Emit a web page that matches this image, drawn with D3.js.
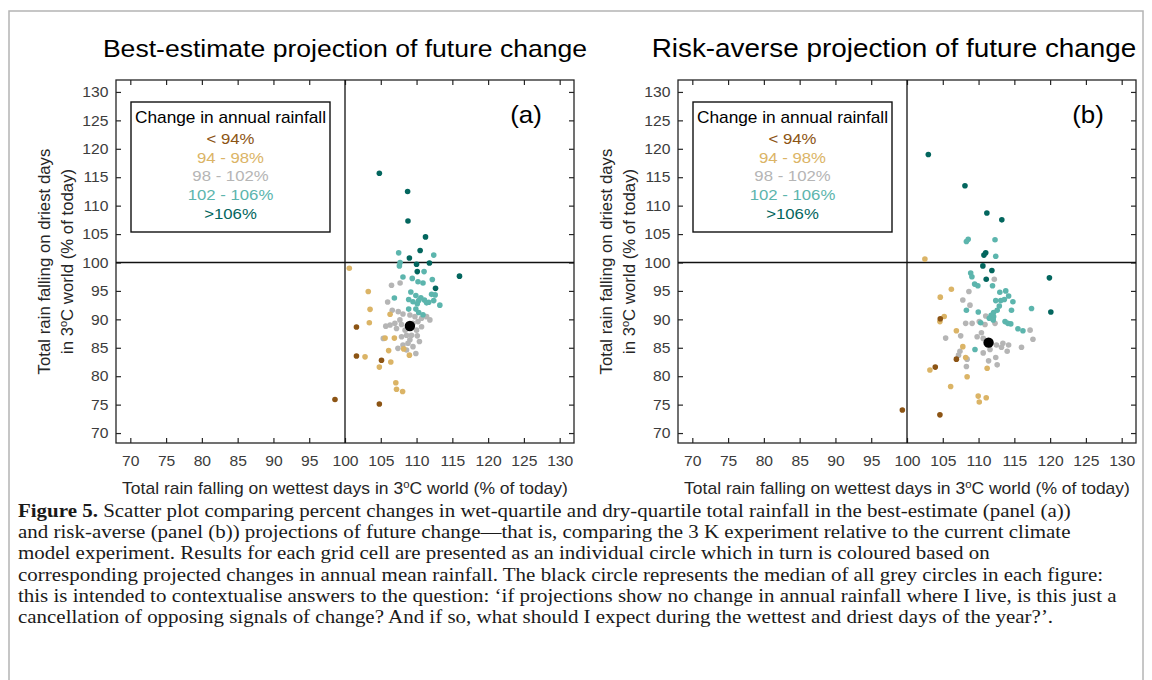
<!DOCTYPE html>
<html>
<head>
<meta charset="utf-8">
<script src="https://cdn.jsdelivr.net/npm/d3@7"></script>
<style>
  body { margin: 0; background: #fff; }
  svg { display: block; }
</style>
</head>
<body>
<svg id="fig" width="1152" height="680"></svg>
<script>
// Figure 5 – wet-quartile vs dry-quartile rainfall change, two panels

// legend categories (change in annual rainfall)
const categories = ['< 94%', '94 - 98%', '98 - 102%', '102 - 106%', '>106%'];
const catColors = ['#8c5414', '#dbb466', '#b5b5b5', '#5cb5ad', '#03665e'];
const drawOrder = [2, 1, 3, 0, 4];

const xTicks = [70, 75, 80, 85, 90, 95, 100, 105, 110, 115, 120, 125, 130];
const yTicks = [70, 75, 80, 85, 90, 95, 100, 105, 110, 115, 120, 125, 130];

// panel (a): best-estimate, [wettest %, driest %]
const aBelow94 = [[101.6, 88.65], [101.6, 83.55], [105.1, 82.8], [98.6, 75.9], [104.8, 75.1]];
const a94to98 = [[100.6, 99.0], [103.25, 94.9], [103.5, 91.76], [106.3, 90.9], [103.4, 89.4],
  [106.9, 86.7], [105.6, 86.7], [106.1, 84.5], [102.8, 83.4], [106.4, 82.5], [104.8, 81.6],
  [109.0, 83.7], [108.2, 84.8], [107.1, 78.85], [107.2, 77.7], [108.05, 77.3]];
const a98to102 = [[106.5, 96.0], [107.7, 96.4], [105.96, 93.05], [106.6, 91.6], [107.44, 91.35],
  [108.1, 90.94], [109.07, 90.76], [109.77, 90.47], [111.4, 90.47], [111.86, 89.9], [107.67, 89.9],
  [106.97, 89.3], [107.9, 89.1], [109.5, 89.3], [110.2, 89.6], [110.7, 90.2], [106.3, 89.0],
  [105.7, 88.8], [107.2, 88.4], [108.4, 88.1], [110.0, 88.1], [110.7, 88.7], [109.3, 87.2],
  [108.6, 87.2], [107.9, 86.95], [109.07, 86.4], [110.1, 87.1], [110.4, 86.1], [108.8, 85.8],
  [108.1, 85.5], [109.5, 85.2], [107.4, 84.9], [108.6, 84.6], [109.9, 84.0], [105.35, 86.65]];
const a102to106 = [[107.5, 101.7], [112.4, 101.3], [107.7, 100.0], [107.6, 99.4], [111.05, 98.4],
  [108.1, 97.45], [109.4, 97.2], [112.2, 97.0], [110.2, 96.6], [110.9, 96.4], [109.2, 94.8],
  [109.9, 94.2], [110.6, 93.8], [111.1, 93.4], [110.3, 93.3], [111.7, 93.0], [112.4, 93.3],
  [112.6, 94.3], [112.1, 94.4], [113.25, 92.5], [109.5, 93.1], [108.9, 93.5], [110.1, 92.75],
  [111.4, 92.9], [106.9, 93.75], [108.9, 91.8], [109.9, 91.8], [110.3, 91.2], [110.9, 90.8]];
const aAbove106 = [[104.8, 115.7], [108.75, 112.5], [108.8, 107.3], [111.25, 104.5], [110.5, 102.1],
  [109.0, 100.8], [110.0, 99.7], [111.8, 99.9], [110.1, 98.4], [116.0, 97.6], [112.65, 95.45]];
const aMedian = [109.07, 88.83];

// panel (b): risk-averse
const bBelow94 = [[104.65, 90.1], [106.9, 83.0], [103.95, 81.6], [99.35, 74.05], [104.6, 73.2]];
const b94to98 = [[102.5, 100.6], [106.2, 95.3], [104.65, 93.9], [105.2, 90.5], [104.6, 89.6],
  [106.9, 88.0], [107.8, 85.2], [108.2, 83.3], [103.2, 81.1], [108.4, 79.9], [111.2, 81.4],
  [106.1, 78.2], [109.95, 76.5], [111.07, 76.2], [110.1, 75.45]];
const b98to102 = [[112.2, 97.05], [108.65, 94.9], [107.8, 93.4], [108.8, 92.5], [111.0, 90.6],
  [108.2, 89.3], [110.1, 89.6], [110.9, 89.1], [112.3, 89.3], [117.2, 88.1], [117.6, 86.5],
  [105.4, 86.7], [107.5, 87.1], [110.4, 87.65], [109.8, 86.95], [110.65, 86.65], [112.5, 85.5],
  [113.4, 85.8], [114.2, 85.5], [114.0, 84.4], [111.6, 84.7], [110.65, 84.1], [108.4, 83.0],
  [111.4, 82.7], [112.6, 82.0], [112.4, 83.3], [108.3, 81.7], [107.4, 84.4], [107.2, 83.7],
  [116.0, 85.1], [113.2, 85.1], [109.1, 89.3]];
const b102to106 = [[108.55, 104.1], [108.3, 103.7], [112.3, 104.0], [112.4, 101.1], [108.9, 98.15],
  [109.07, 97.5], [109.45, 96.2], [109.9, 95.9], [111.95, 95.9], [112.97, 94.76], [113.8, 95.0],
  [112.4, 93.3], [113.1, 93.3], [113.6, 93.5], [114.2, 94.1], [114.8, 93.1], [112.9, 92.35],
  [112.6, 91.6], [112.1, 91.2], [114.6, 91.6], [111.76, 90.7], [112.1, 90.47], [111.5, 90.2],
  [112.05, 89.9], [113.7, 89.6], [114.1, 89.3], [114.5, 89.2], [115.5, 88.35], [116.2, 88.0],
  [109.96, 91.3], [108.3, 91.6], [109.5, 84.7], [110.3, 89.4], [117.4, 91.9]];
const bAbove106 = [[102.98, 119.0], [108.1, 113.5], [111.16, 108.7], [113.25, 107.5], [111.0, 101.7],
  [110.75, 101.3], [110.6, 99.4], [111.86, 98.6], [111.07, 97.05], [119.9, 97.3], [120.1, 91.3]];
const bMedian = [111.4, 85.9];

const captionLines = [
  ['Figure 5.', ' Scatter plot comparing percent changes in wet-quartile and dry-quartile total rainfall in the best-estimate (panel (a))'],
  ['', 'and risk-averse (panel (b)) projections of future change\u2014that is, comparing the 3 K experiment relative to the current climate'],
  ['', 'model experiment. Results for each grid cell are presented as an individual circle which in turn is coloured based on'],
  ['', 'corresponding projected changes in annual mean rainfall. The black circle represents the median of all grey circles in each figure:'],
  ['', 'this is intended to contextualise answers to the question: \u2018if projections show no change in annual rainfall where I live, is this just a'],
  ['', 'cancellation of opposing signals of change? And if so, what should I expect during the wettest and driest days of the year?\u2019.']
];

const SANS = '"Liberation Sans", Arial, Helvetica, sans-serif';
const SERIF = '"Liberation Serif", "Times New Roman", serif';
const SX = 1.08; // source figure is slightly stretched horizontally

const svg = d3.select('#fig');

// light frame around the figure
svg.append('rect')
  .attr('x', 9).attr('y', 11).attr('width', 1134).attr('height', 700)
  .attr('fill', 'none').attr('stroke', '#b4b4b4').attr('stroke-width', 1.5);

function stretchText(g, x, y, str, size, fill, anchor) {
  return g.append('text')
    .attr('transform', `translate(${x},${y}) scale(${SX},1)`)
    .attr('font-family', SANS)
    .attr('font-size', size)
    .attr('fill', fill || '#000')
    .attr('text-anchor', anchor || 'middle')
    .text(str);
}

const plotW = 458, plotTop = 80, plotBottom = 443;

const panels = [
  { left: 116, title: 'Best-estimate projection of future change', tag: '(a)',
    titleX: 345, titleSize: 24.6,
    groups: [aBelow94, a94to98, a98to102, a102to106, aAbove106], median: aMedian },
  { left: 678, title: 'Risk-averse projection of future change', tag: '(b)',
    titleX: 894, titleSize: 25.8,
    groups: [bBelow94, b94to98, b98to102, b102to106, bAbove106], median: bMedian }
];

panels.forEach(p => {
  const x = d3.scaleLinear().domain([68, 132]).range([p.left, p.left + plotW]);
  const y = d3.scaleLinear().domain([68.25, 132.1]).range([plotBottom, plotTop]);
  const g = svg.append('g');
  const cx = p.left + plotW / 2;

  // title
  stretchText(g, p.titleX, 57, p.title, p.titleSize);

  // axes, ticks pointing inward on all four sides
  const axB = g.append('g').attr('transform', `translate(0,${plotBottom})`)
    .call(d3.axisBottom(x).tickValues(xTicks).tickSize(-5).tickPadding(13));
  const axT = g.append('g').attr('transform', `translate(0,${plotTop})`)
    .call(d3.axisTop(x).tickValues(xTicks).tickSize(-5).tickFormat(''));
  const axL = g.append('g').attr('transform', `translate(${p.left},0)`)
    .call(d3.axisLeft(y).tickValues(yTicks).tickSize(-5).tickPadding(7));
  const axR = g.append('g').attr('transform', `translate(${p.left + plotW},0)`)
    .call(d3.axisRight(y).tickValues(yTicks).tickSize(-5).tickFormat(''));
  [axB, axT, axL, axR].forEach(a => {
    a.select('.domain').remove();
    a.selectAll('.tick line').attr('stroke', '#262626').attr('stroke-width', 1.2);
    a.selectAll('.tick text')
      .attr('font-family', SANS).attr('font-size', 14.5).attr('fill', '#3c3c3c')
      .attr('transform', `scale(${SX},1)`);
  });

  g.append('rect')
    .attr('x', p.left).attr('y', plotTop).attr('width', plotW).attr('height', plotBottom - plotTop)
    .attr('fill', 'none').attr('stroke', '#262626').attr('stroke-width', 1.3);

  // 100 % reference lines
  g.append('line')
    .attr('x1', x(100)).attr('x2', x(100)).attr('y1', plotTop).attr('y2', plotBottom)
    .attr('stroke', '#111').attr('stroke-width', 1.3);
  g.append('line')
    .attr('x1', p.left).attr('x2', p.left + plotW).attr('y1', y(100)).attr('y2', y(100))
    .attr('stroke', '#111').attr('stroke-width', 1.3);

  // points
  drawOrder.forEach(ci => {
    g.append('g').selectAll('circle')
      .data(p.groups[ci])
      .join('circle')
      .attr('cx', d => x(d[0]))
      .attr('cy', d => y(d[1]))
      .attr('r', 2.8)
      .attr('fill', catColors[ci]);
  });
  g.append('circle')
    .attr('cx', x(p.median[0])).attr('cy', y(p.median[1]))
    .attr('r', 5.2).attr('fill', '#000');

  // legend box
  const lx = p.left + 15;
  g.append('rect')
    .attr('x', lx).attr('y', 102).attr('width', 199).attr('height', 130)
    .attr('fill', '#fff').attr('stroke', '#111').attr('stroke-width', 1.4);
  stretchText(g, lx + 99.5, 123, 'Change in annual rainfall', 16);
  categories.forEach((c, i) => {
    stretchText(g, lx + 99.5, 144 + i * 18.7, c, 15.5, catColors[i]);
  });

  // panel tag
  stretchText(g, p.left + 410, 123, p.tag, 24);

  // x label
  const xl = stretchText(g, cx, 494, '', 16.2, '#262626');
  xl.append('tspan').text('Total rain falling on wettest days in 3');
  xl.append('tspan').attr('font-size', 10.5).attr('dy', -6.5).text('o');
  xl.append('tspan').attr('dy', 6.5).text('C world (% of today)');

  // y label (two lines)
  const midY = (plotTop + plotBottom) / 2;
  g.append('text')
    .attr('transform', `translate(${p.left - 66},${midY}) rotate(-90)`)
    .attr('font-family', SANS).attr('font-size', 16.8).attr('fill', '#262626')
    .attr('text-anchor', 'middle')
    .text('Total rain falling on driest days');
  const yl2 = g.append('text')
    .attr('transform', `translate(${p.left - 43},${midY}) rotate(-90)`)
    .attr('font-family', SANS).attr('font-size', 16.8).attr('fill', '#262626')
    .attr('text-anchor', 'middle');
  yl2.append('tspan').text('in 3');
  yl2.append('tspan').attr('font-size', 11).attr('dy', -6.5).text('o');
  yl2.append('tspan').attr('dy', 6.5).text('C world (% of today)');
});

// caption
captionLines.forEach((ln, i) => {
  const t = svg.append('text')
    .attr('transform', `translate(18,${517 + i * 21.2}) scale(1.075,1)`)
    .attr('font-family', SERIF).attr('font-size', 19.5).attr('fill', '#1a1a1a');
  if (ln[0]) t.append('tspan').attr('font-weight', 'bold').text(ln[0]);
  t.append('tspan').text(ln[1]);
});
</script>
</body>
</html>
